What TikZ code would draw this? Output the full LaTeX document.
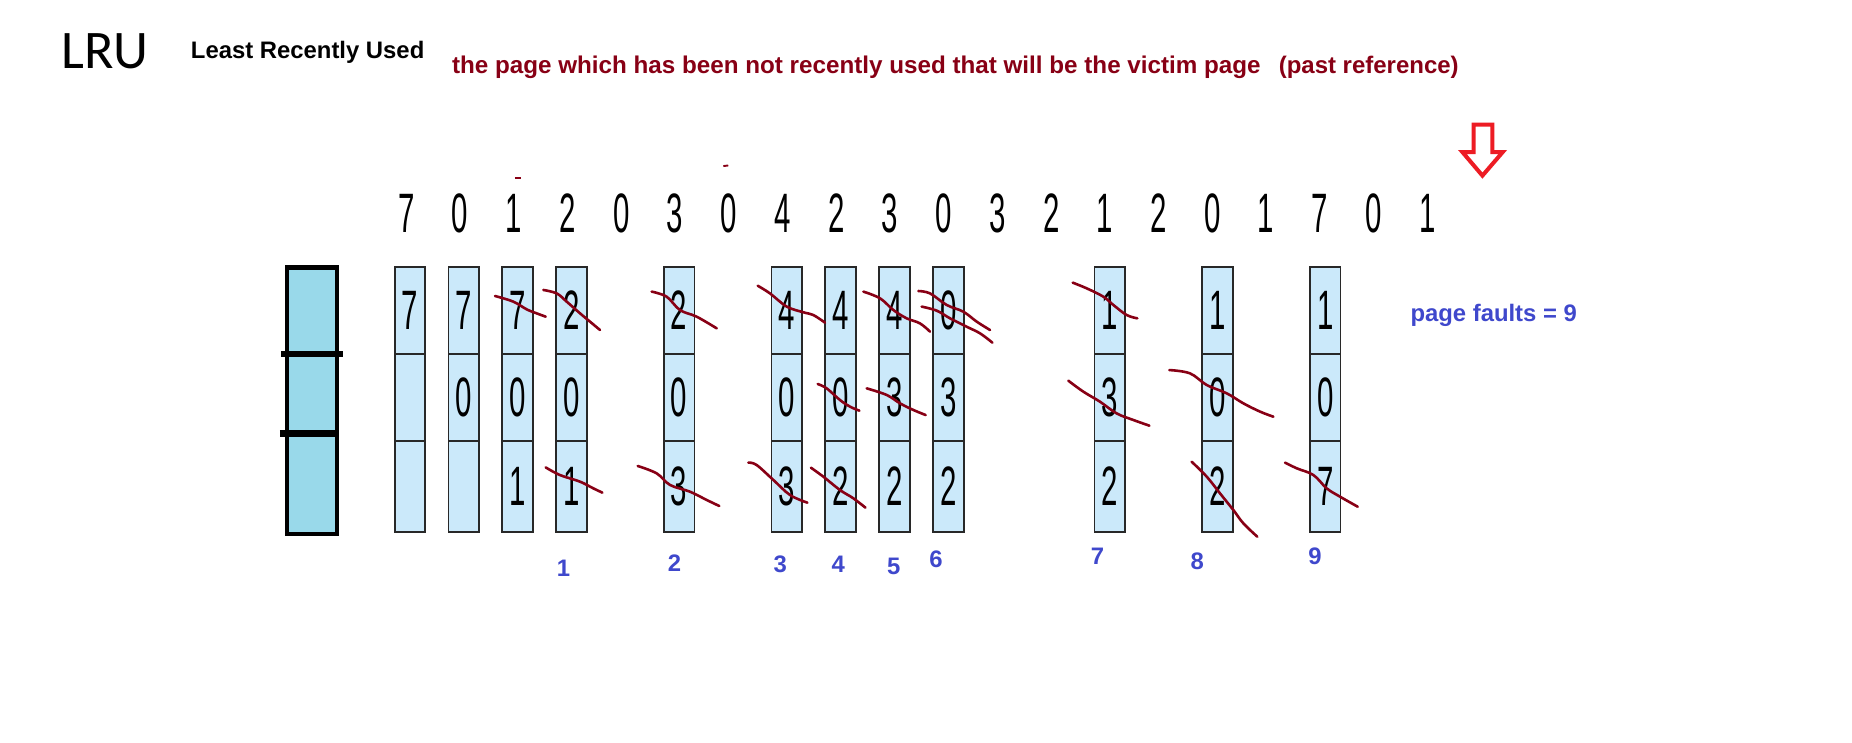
\documentclass[tikz,border=0pt]{standalone}
\usepackage{fontspec}
\setmainfont{Liberation Sans}
\newfontfamily\lrufont{Carlito}
\usepackage{graphicx}
\definecolor{pgdark}{HTML}{880015}
\definecolor{pgblue}{HTML}{3F48CC}
\definecolor{pgred}{HTML}{ED1C24}
\definecolor{pgturq}{HTML}{99D9EA}
\definecolor{pgcell}{RGB}{203,233,250}
\definecolor{pgedge}{RGB}{40,40,40}
\newcommand\pgdig[1]{\scalebox{0.53}[1]{\fontsize{47}{47}\selectfont #1}}
\newcommand\pgcol[5]{%
  \node[cell,minimum height=73.9pt] (#1a) at ({347.1+45.58*#2},262.75) {\pgdig{#3}};
  \node[cell,minimum height=73.7pt] (#1b) at ({347.1+45.58*#2},336.55) {\pgdig{#4}};
  \node[cell,minimum height=76.8pt] (#1c) at ({347.1+45.58*#2},411.8) {\pgdig{#5}};
}
\begin{document}
\begin{tikzpicture}[x=1pt,y=-1pt,
  cell/.style={rectangle,draw=pgedge,fill=pgcell,line width=1.6pt,minimum width=26pt,inner sep=0pt},
  refdig/.style={inner sep=0pt},
  boldtxt/.style={inner sep=0pt,anchor=base west,font=\bfseries\fontsize{20.2}{24}\selectfont},
  fault/.style={inner sep=0pt,text=pgblue,font=\bfseries\fontsize{20.2}{24}\selectfont},
  strike/.style={draw=pgdark,line width=2.2pt,line cap=round,line join=round},
  bigbox/.style={rectangle,draw=black,fill=pgturq,line width=3.5pt,inner sep=0pt,minimum width=42pt,minimum height=225.5pt}]
\fill[white] (0,0) rectangle (1568,629);
\useasboundingbox (0,0) rectangle (1568,629);

% titles
\node[inner sep=0pt,anchor=base west,font=\lrufont\fontsize{46}{46}\selectfont] (title) at (52,58.4) {LRU};
\node[boldtxt] (full) at (161.5,49.4) {Least Recently Used};
\node[boldtxt,text=pgdark,font=\bfseries\fontsize{20.5}{24}\selectfont] (desc) at (382.5,62.1) {the page which has been not recently used that will be the victim page};
\node[boldtxt,text=pgdark,font=\bfseries\fontsize{20.3}{24}\selectfont] (past) at (1082.5,62.1) {(past reference)};
\node[boldtxt,text=pgblue] (pf) at (1194,272.3) {page faults = 9};

% red hollow arrow
\draw[pgred,line width=3.4pt] (1247.7,105.6) -- (1263.5,105.6) -- (1263.5,128.7) -- (1272.3,128.7)
  -- (1255.1,148.7) -- (1238.1,128.7) -- (1247.7,128.7) -- cycle;

% small stray marks
\draw[pgdark,line width=1.6pt] (436,150.4) -- (440.9,150.4);
\draw[pgdark,line width=1.6pt] (612.4,140.6) -- (616.6,140.1);

% reference string
\foreach \v [count=\k from 0] in {7,0,1,2,0,3,0,4,2,3,0,3,2,1,2,0,1,7,0,1}
  \node[refdig] (r\k) at ({344+45.5*\k},180.6) {\pgdig{\v}};

% big frame
\node[bigbox] (frame) at (264.3,339.25) {};
\draw[black,line width=4.5pt] (238,299.6) -- (290,299.6);
\draw[black,line width=6pt] (237,366.9) -- (287,366.9);

% frame columns
\pgcol{k0}{0}{7}{}{}
\pgcol{k1}{1}{7}{0}{}
\pgcol{k2}{2}{7}{0}{1}
\pgcol{k3}{3}{2}{0}{1}
\pgcol{k5}{5}{2}{0}{3}
\pgcol{k7}{7}{4}{0}{3}
\pgcol{k8}{8}{4}{0}{2}
\pgcol{k9}{9}{4}{3}{2}
\pgcol{k10}{10}{0}{3}{2}
\pgcol{k13}{13}{1}{3}{2}
\pgcol{k15}{15}{1}{0}{2}
\pgcol{k17}{17}{1}{0}{7}

% strike marks
\draw[strike] plot[smooth,tension=0.6] coordinates {(419.1,250.6) (434.6,255.4) (445.9,261.9) (454.4,265.3) (462,268.1)};
\draw[strike] plot[smooth,tension=0.6] coordinates {(460,245.5) (471.3,248.4) (479.8,255.4) (491.1,265.3) (499.5,272.3) (508,279.4)};
\draw[strike] plot[smooth,tension=0.6] coordinates {(462,395.7) (474.1,402.2) (491.1,407.8) (502.4,413.5) (510,417.1)};
\draw[strike] plot[smooth,tension=0.6] coordinates {(551.7,246.9) (564.4,251.2) (575.7,262.5) (589.8,268.1) (606.8,278)};
\draw[strike] plot[smooth,tension=0.6] coordinates {(539.9,394.5) (556,400.8) (567.3,410.6) (584.2,416.3) (598.3,423.3) (609,428.4)};
\draw[strike] plot[smooth,tension=0.6] coordinates {(641.5,241.9) (651.9,248.4) (666.1,259.6) (680.2,264.4) (688.6,266.7) (698.5,273.2)};
\draw[strike] plot[smooth,tension=0.6] coordinates {(633.6,391.7) (640.6,393.7) (654.8,406.4) (668.9,419.1) (683.6,425.6)};
\draw[strike] plot[smooth,tension=0.6] coordinates {(692.3,325.1) (699.9,328.8) (711.2,338.7) (719.7,344.3) (727.6,347.7)};
\draw[strike] plot[smooth,tension=0.6] coordinates {(686.6,396) (697.1,403.6) (711.2,414.9) (722.5,421.9) (732.7,429.8)};
\draw[strike] plot[smooth,tension=0.6] coordinates {(731,246.9) (745.1,252.6) (756.4,262.5) (767.6,269.5) (778.9,273.8) (787.4,280.8)};
\draw[strike] plot[smooth,tension=0.6] coordinates {(733.8,328.8) (750.7,334.4) (762,341.5) (773.3,347.1) (783.7,351.4)};
\draw[strike] plot[smooth,tension=0.6] coordinates {(777.5,246.4) (787.4,248.4) (801.5,258.2) (815.6,263.9) (826.9,272.3) (838.2,279.4)};
\draw[strike] plot[smooth,tension=0.6] coordinates {(780.3,259.6) (793,263) (804.3,269.5) (818.4,276.6) (829.7,282.2) (840.2,290.1)};
\draw[strike] plot[smooth,tension=0.6] coordinates {(908.2,239.3) (920,244.1) (934.2,251.2) (942.6,258.2) (953.9,266.7) (962.9,269.5)};
\draw[strike] plot[smooth,tension=0.6] coordinates {(904.5,322.3) (917.2,331.6) (931.3,340.1) (945.4,350) (959.6,355.6) (973.1,360.4)};
\draw[strike] plot[smooth,tension=0.6] coordinates {(990,313.3) (1007.5,316.1) (1021.7,326) (1038.6,333) (1052.7,341.5) (1066.8,348.5) (1078.1,352.8)};
\draw[strike] plot[smooth,tension=0.6] coordinates {(1008.9,390.9) (1021.7,403.6) (1032.9,417.7) (1044.2,431.8) (1052.7,443.1) (1064.5,454.4)};
\draw[strike] plot[smooth,tension=0.6] coordinates {(1088,391.7) (1097.9,396.5) (1112,402.2) (1123.3,413.5) (1134.5,420.5) (1149.5,429)};

% page fault counters
\node[fault] (f1) at (477,481.2) {1};
\node[fault] (f2) at (571,477) {2};
\node[fault] (f3) at (660.7,477.8) {3};
\node[fault] (f4) at (709.8,477.8) {4};
\node[fault] (f5) at (756.7,479.8) {5};
\node[fault] (f6) at (792.5,473.3) {6};
\node[fault] (f7) at (929.1,470.8) {7};
\node[fault] (f8) at (1013.7,475) {8};
\node[fault] (f9) at (1113.4,471.3) {9};
\end{tikzpicture}
\end{document}
